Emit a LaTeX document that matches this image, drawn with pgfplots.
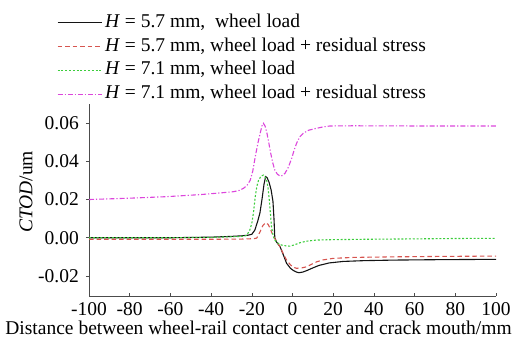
\documentclass[border=0pt]{standalone}
\usepackage{fontspec}
\setmainfont{Liberation Serif}
\usepackage{pgfplots}
\pgfplotsset{compat=1.18}
\definecolor{cblack}{RGB}{20,20,20}
\definecolor{cred}{RGB}{215,85,80}
\definecolor{cgreen}{RGB}{60,205,60}
\definecolor{cmag}{RGB}{220,70,220}
\begin{document}
\begin{tikzpicture}
\useasboundingbox (0,0) rectangle (520bp,345bp);
\begin{axis}[
  at={(89bp,49bp)}, anchor=south west,
  scale only axis, width=407bp, height=192bp,
  xmin=-100, xmax=100, ymin=-0.0305, ymax=0.07,
  axis x line*=bottom, axis y line*=left,
  axis line style={line width=0.6bp, color=black!70},
  xtick={-100,-80,...,100},
  ytick={-0.02,0,0.02,0.04,0.06},
  yticklabel style={/pgf/number format/fixed,/pgf/number format/precision=2,/pgf/number format/fixed zerofill, anchor=east, inner sep=0pt, xshift=-7bp},
  xticklabel style={anchor=base, inner sep=0pt, yshift=-19.5bp},
  /pgf/number format/assume math mode=true,
  scaled y ticks=false,
  font=\fontsize{19.5bp}{22bp}\selectfont,
  tick style={color=black!70, line width=0.5bp},
  major tick length=3bp,
  xtick align=inside, ytick align=outside,
  xlabel={Distance between wheel-rail contact center and crack mouth/mm},
  xlabel style={at={(axis description cs:0.4165,0)}, anchor=base, yshift=-38bp, inner sep=0pt},
  ylabel={\textit{CTOD}/um},
  ylabel style={at={(axis description cs:-0.155,0.542)}, anchor=center, rotate=0, inner sep=0pt},
  legend style={at={(axis description cs:-0.079,1.474)}, anchor=north west, draw=none, fill=none,
    inner sep=0pt, row sep=4.9bp,
    nodes={inner ysep=0pt, inner xsep=3bp, text height=14bp, text depth=5bp},
    font=\fontsize{19.5bp}{22bp}\selectfont},
  legend cell align=left,
  legend image code/.code={\draw[#1] (0bp,0bp) -- (44bp,0bp);},
  clip=false,
]
\addplot[cblack, line width=1.1bp] coordinates {
(-100,0) (-60,0) (-40,0.0003) (-30,0.0007) (-25,0.0010) (-22,0.0013) (-20,0.0018) (-18.5,0.004)
(-17,0.009) (-16,0.013) (-15,0.020) (-14,0.028) (-13.2,0.032) (-12.5,0.0315) (-11.5,0.029)
(-10.5,0.025) (-9.6,0.019) (-9.1,0.010) (-8.7,0.000) (-8,-0.002) (-6.1,-0.0047) (-4.5,-0.009)
(-2.9,-0.0134) (-1,-0.0160) (0.5,-0.0172) (2,-0.0180) (3.2,-0.0183) (5,-0.0180) (7,-0.0172)
(10,-0.0158) (13,-0.0145) (18,-0.0132) (25,-0.0124) (35,-0.0120) (50,-0.0117) (70,-0.0115) (100,-0.0113)
};
\addlegendentry{\textit{H} = 5.7 mm,\ \ wheel load}
\addplot[cred, line width=1.1bp, dash pattern=on 4.5bp off 3bp] coordinates {
(-100,-0.0008) (-60,-0.0008) (-40,-0.0008) (-25,-0.0007) (-19,-0.0005) (-17.6,-0.0002) (-16,0.003)
(-14.5,0.0065) (-13.2,0.0079) (-12,0.007) (-11,0.005) (-9.7,0.0014) (-8.3,-0.001) (-6,-0.005)
(-4.5,-0.0085) (-2.9,-0.0117) (-1,-0.0142) (0.5,-0.0155) (2,-0.0160) (4.5,-0.0158) (7,-0.0152)
(9.5,-0.0138) (11.9,-0.0126) (15,-0.0116) (20,-0.0108) (30,-0.0103) (50,-0.0100) (70,-0.0098) (100,-0.0096)
};
\addlegendentry{\textit{H} = 5.7 mm, wheel load + residual stress}
\addplot[cgreen, line width=1.1bp, dash pattern=on 2bp off 1.8bp] coordinates {
(-100,0) (-60,0) (-40,0.0002) (-30,0.0005) (-25,0.0007) (-22.5,0.0012) (-21,0.004) (-20,0.0075)
(-19.2,0.013) (-18.3,0.0215) (-17.5,0.027) (-16.7,0.030) (-15.5,0.0322) (-14.3,0.0328) (-13.5,0.0318)
(-12.7,0.030) (-12,0.026) (-11.4,0.0197) (-10.8,0.012) (-10.3,0.0058) (-9.5,0.001) (-8.7,-0.0012)
(-7,-0.0030) (-5.5,-0.0038) (-3,-0.0043) (-1.2,-0.0044) (1,-0.0037) (3.7,-0.0026) (7,-0.0018)
(11.9,-0.0012) (20,-0.0010) (36.5,-0.0008) (60,-0.0006) (80,-0.0004) (100,-0.0003)
};
\addlegendentry{\textit{H} = 7.1 mm, wheel load}
\addplot[cmag, line width=1.1bp, dash pattern=on 5bp off 2bp on 1.2bp off 2bp] coordinates {
(-100,0.0200) (-80,0.0207) (-61.8,0.0215) (-45,0.0226) (-35,0.0235) (-29,0.0241) (-26,0.0248)
(-24,0.0259) (-22.3,0.0275) (-20.8,0.030) (-19.5,0.035) (-18.3,0.0424) (-17,0.0495) (-15.9,0.0547)
(-15,0.0585) (-14.3,0.0599) (-13.5,0.0585) (-12.7,0.0555) (-11.7,0.050) (-10.7,0.0442) (-9.7,0.0392)
(-8.7,0.0354) (-7.4,0.0332) (-6.1,0.0323) (-4.9,0.0326) (-3.7,0.0337) (-2,0.0370) (-0.4,0.0416)
(1,0.0465) (2,0.0494) (3.5,0.0527) (5.3,0.0547) (8,0.0563) (11.9,0.0573) (15,0.0580) (18.4,0.0585)
(30,0.0586) (60,0.0585) (100,0.0585)
};
\addlegendentry{\textit{H} = 7.1 mm, wheel load + residual stress}
\end{axis}
\end{tikzpicture}
\end{document}
